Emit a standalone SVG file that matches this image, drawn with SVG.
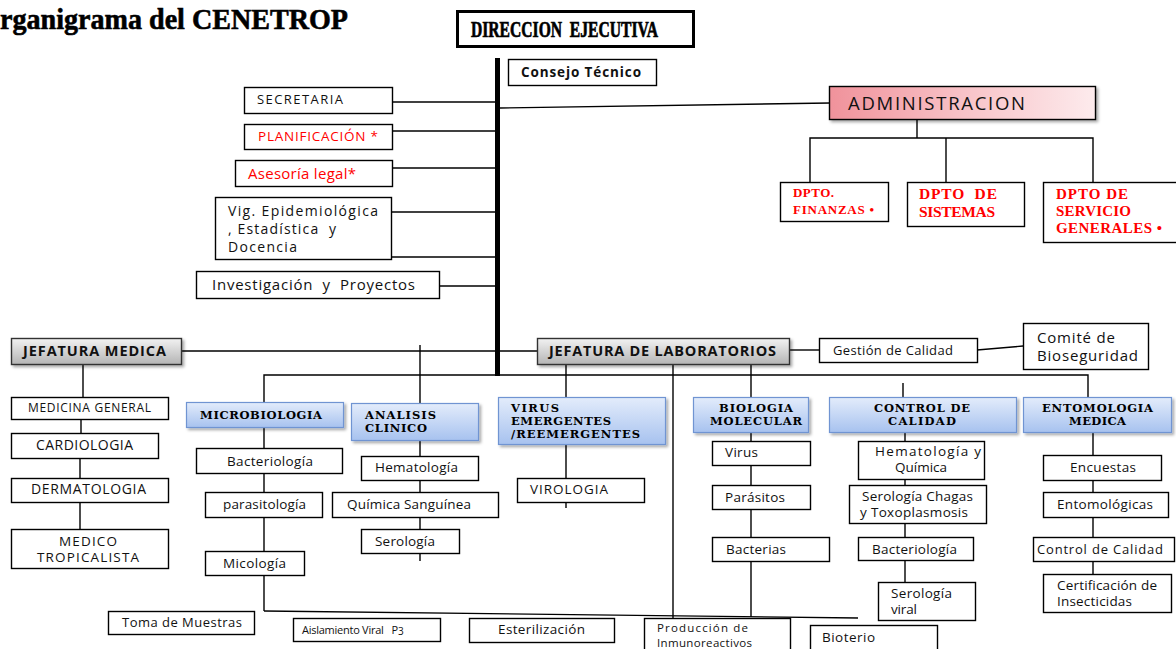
<svg xmlns="http://www.w3.org/2000/svg" width="1176" height="649" viewBox="0 0 1176 649">
<defs>
<linearGradient id="pink" x1="0" y1="0" x2="1" y2="0"><stop offset="0" stop-color="#f0929b"/><stop offset="0.5" stop-color="#f8c2c7"/><stop offset="1" stop-color="#fdebed"/></linearGradient>
<linearGradient id="gray" x1="0" y1="0" x2="0" y2="1"><stop offset="0" stop-color="#f2f2f2"/><stop offset="1" stop-color="#b4b4b4"/></linearGradient>
<linearGradient id="blue" x1="0" y1="0" x2="0" y2="1"><stop offset="0" stop-color="#e3ecfb"/><stop offset="1" stop-color="#a7c2ef"/></linearGradient>
<filter id="sh" x="-10%" y="-20%" width="125%" height="160%"><feDropShadow dx="2" dy="2" stdDeviation="1.5" flood-color="#000" flood-opacity="0.35"/></filter>
</defs>
<style>
.b{fill:#fff;stroke:#000;stroke-width:1.4}
.t{font-family:"Open Sans","Liberation Sans",sans-serif;fill:#111;white-space:pre}
.r{fill:#f00}
.bs{font-family:"DejaVu Serif",serif;font-weight:bold;fill:#000}
.rs{font-family:"Liberation Serif",serif;font-weight:bold;fill:#f00;white-space:pre}
.bl{fill:url(#blue);stroke:#6f94d2;stroke-width:1.2;filter:url(#sh)}
.gr{fill:url(#gray);stroke:#333;stroke-width:1.4;filter:url(#sh)}
.c line,.c polyline{stroke:#000;stroke-width:1.4;fill:none}
</style>
<text x="0" y="29" font-family="Liberation Serif,serif" font-weight="bold" font-size="30" textLength="348" lengthAdjust="spacingAndGlyphs" stroke="#000" stroke-width="0.6">rganigrama del CENETROP</text>
<g class="c" id="connectors">
<line x1="497.5" y1="58" x2="497.5" y2="376" style="stroke-width:5"/>
<line x1="392" y1="102" x2="497" y2="102"/>
<line x1="500" y1="108" x2="830" y2="103"/>
<line x1="392" y1="131" x2="497" y2="131"/>
<line x1="392" y1="168" x2="497" y2="168"/>
<line x1="391" y1="212" x2="497" y2="212"/>
<line x1="391" y1="257" x2="497" y2="257"/>
<line x1="439" y1="286" x2="497" y2="286"/>
<line x1="917" y1="119" x2="917" y2="138"/>
<polyline points="810,182 810,138 1093,138 1093,183"/>
<line x1="946" y1="138" x2="946" y2="182"/>
<line x1="181" y1="351" x2="537" y2="351"/>
<line x1="789" y1="350" x2="819" y2="350"/>
<line x1="977" y1="350" x2="1023" y2="346"/>
<polyline points="264,402 264,375 1088,375 1088,397"/>
<line x1="420" y1="345" x2="420" y2="403"/>
<line x1="903" y1="383" x2="903" y2="397"/>
<line x1="566" y1="364" x2="566" y2="397"/>
<line x1="673" y1="364" x2="673" y2="618"/>
<line x1="751" y1="364" x2="751" y2="397"/>
<line x1="83" y1="364" x2="83" y2="397"/>
<line x1="81" y1="419" x2="81" y2="433"/>
<line x1="80" y1="458" x2="80" y2="478"/>
<line x1="80" y1="502" x2="80" y2="529"/>
<line x1="264" y1="427" x2="264" y2="611"/>
<line x1="264" y1="611" x2="858" y2="618"/>
<line x1="420" y1="440" x2="420" y2="561"/>
<line x1="566" y1="444" x2="566" y2="508"/>
<line x1="751" y1="432" x2="751" y2="617"/>
<line x1="905" y1="432" x2="905" y2="582"/>
<line x1="1093" y1="432" x2="1093" y2="574"/>
</g>
<g id="direccion"><rect x="457.5" y="11.5" width="236" height="35" fill="#fff" stroke="#000" stroke-width="3"/><text x="471" y="37" font-family="Liberation Serif,serif" font-weight="bold" font-size="23" textLength="187" lengthAdjust="spacingAndGlyphs" stroke="#000" stroke-width="0.7" style="white-space:pre">DIRECCION  EJECUTIVA</text></g>
<g id="consejo"><rect class="b" x="508.5" y="59.5" width="148" height="26"/><text class="t" x="521" y="77" font-weight="bold" font-size="13.5" textLength="120">Consejo Técnico</text></g>
<g id="secretaria"><rect class="b" x="244.5" y="87.5" width="148" height="26"/><text class="t" x="257" y="104" font-size="13" textLength="86">SECRETARIA</text></g>
<g id="planificacion"><rect class="b" x="244.5" y="124.5" width="148" height="25"/><text class="t r" x="258" y="141" font-size="13.5" textLength="120">PLANIFICACIÓN *</text></g>
<g id="asesoria"><rect class="b" x="235.5" y="160.5" width="157" height="26"/><text class="t r" x="248" y="179" font-size="15" textLength="108">Asesoría legal*</text></g>
<g id="vig"><rect class="b" x="215.5" y="197.5" width="176" height="62"/><text class="t" x="228" y="216" font-size="14" textLength="150">Vig. Epidemiológica</text><text class="t" x="228" y="234" font-size="14" textLength="108">, Estadística  y</text><text class="t" x="228" y="252" font-size="14" textLength="69">Docencia</text></g>
<g id="investigacion"><rect class="b" x="196.5" y="271.5" width="243" height="27"/><text class="t" x="212" y="290" font-size="15" textLength="203">Investigación  y  Proyectos</text></g>
<g id="administracion"><rect x="829.5" y="86.5" width="266" height="33" fill="url(#pink)" stroke="#000" stroke-width="1.4" filter="url(#sh)"/><text class="t" x="848" y="110" font-size="18.5" textLength="177">ADMINISTRACION</text></g>
<g id="finanzas"><rect class="b" x="780.5" y="182.5" width="108" height="39"/><text class="rs" x="793" y="197" font-size="13" textLength="41">DPTO.</text><text class="rs" x="793" y="214" font-size="13" textLength="81">FINANZAS •</text></g>
<g id="sistemas"><rect class="b" x="907.5" y="182.5" width="117" height="44"/><text class="rs" x="919" y="199" font-size="15.5" textLength="78">DPTO  DE</text><text class="rs" x="919" y="217" font-size="15.5" textLength="76">SISTEMAS</text></g>
<g id="servicio"><rect class="b" x="1043.5" y="182.5" width="134" height="60"/><text class="rs" x="1056" y="199" font-size="15" textLength="72">DPTO DE</text><text class="rs" x="1056" y="216" font-size="15" textLength="75">SERVICIO</text><text class="rs" x="1056" y="233" font-size="15" textLength="106">GENERALES •</text></g>
<g id="jefmedica"><rect class="gr" x="11.5" y="338.5" width="170" height="26"/><text class="t" x="23" y="356" font-weight="bold" font-size="14.5" textLength="143">JEFATURA MEDICA</text></g>
<g id="jeflab"><rect class="gr" x="537.5" y="338.5" width="252" height="26"/><text class="t" x="549" y="356" font-weight="bold" font-size="14.5" textLength="227">JEFATURA DE LABORATORIOS</text></g>
<g id="gestion"><rect class="b" x="819.5" y="338.5" width="158" height="24"/><text class="t" x="833" y="355" font-size="13" textLength="120">Gestión de Calidad</text></g>
<g id="comite"><rect class="b" x="1023.5" y="323.5" width="125" height="46"/><text class="t" x="1037" y="343" font-size="15" textLength="78">Comité de</text><text class="t" x="1037" y="361" font-size="15" textLength="101">Bioseguridad</text></g>
<g id="medgeneral"><rect class="b" x="11.5" y="397.5" width="157" height="22"/><text class="t" x="28" y="412" font-size="12" textLength="123">MEDICINA GENERAL</text></g>
<g id="cardiologia"><rect class="b" x="11.5" y="433.5" width="147" height="25"/><text class="t" x="36" y="450" font-size="14" textLength="97">CARDIOLOGIA</text></g>
<g id="dermatologia"><rect class="b" x="11.5" y="478.5" width="157" height="24"/><text class="t" x="31" y="494" font-size="14" textLength="115">DERMATOLOGIA</text></g>
<g id="tropicalista"><rect class="b" x="11.5" y="529.5" width="157" height="39"/><text class="t" x="59" y="546" font-size="13.5" textLength="58">MEDICO</text><text class="t" x="37" y="562" font-size="13.5" textLength="102">TROPICALISTA</text></g>
<g id="microbiologia"><rect class="bl" x="186.5" y="402.5" width="157" height="25"/><text class="bs" x="200" y="419" font-size="11.5" textLength="122">MICROBIOLOGIA</text></g>
<g id="analisis"><rect class="bl" x="351.5" y="403.5" width="127" height="37"/><text class="bs" x="365" y="419" font-size="11.5" textLength="71">ANALISIS</text><text class="bs" x="365" y="432" font-size="11.5" textLength="62">CLINICO</text></g>
<g id="virus"><rect class="bl" x="498.5" y="397.5" width="167" height="47"/><text class="bs" x="511" y="412" font-size="11.5" textLength="48">VIRUS</text><text class="bs" x="511" y="425" font-size="11.5" textLength="100">EMERGENTES</text><text class="bs" x="511" y="438" font-size="11.5" textLength="129">/REEMERGENTES</text></g>
<g id="biomol"><rect class="bl" x="693.5" y="397.5" width="115" height="35"/><text class="bs" x="719" y="412" font-size="11.5" textLength="74">BIOLOGIA</text><text class="bs" x="710" y="425" font-size="11.5" textLength="92">MOLECULAR</text></g>
<g id="control"><rect class="bl" x="829.5" y="397.5" width="187" height="35"/><text class="bs" x="874" y="412" font-size="11.5" textLength="96">CONTROL DE</text><text class="bs" x="888" y="425" font-size="11.5" textLength="68">CALIDAD</text></g>
<g id="entomologia"><rect class="bl" x="1023.5" y="397.5" width="148" height="35"/><text class="bs" x="1042" y="412" font-size="11.5" textLength="111">ENTOMOLOGIA</text><text class="bs" x="1069" y="425" font-size="11.5" textLength="57">MEDICA</text></g>
<g id="bacteriologia1"><rect class="b" x="196.5" y="448.5" width="146" height="25"/><text class="t" x="227" y="466" font-size="13.5" textLength="86">Bacteriología</text></g>
<g id="parasitologia"><rect class="b" x="205.5" y="492.5" width="117" height="25"/><text class="t" x="223" y="509" font-size="13.5" textLength="83">parasitología</text></g>
<g id="micologia"><rect class="b" x="205.5" y="551.5" width="99" height="24"/><text class="t" x="223" y="568" font-size="13.5" textLength="63">Micología</text></g>
<g id="hematologia"><rect class="b" x="361.5" y="456.5" width="117" height="24"/><text class="t" x="375" y="472" font-size="13.5" textLength="83">Hematología</text></g>
<g id="quimica"><rect class="b" x="332.5" y="492.5" width="166" height="25"/><text class="t" x="347" y="509" font-size="13.5" textLength="124">Química Sanguínea</text></g>
<g id="serologia1"><rect class="b" x="361.5" y="529.5" width="98" height="24"/><text class="t" x="375" y="546" font-size="13.5" textLength="60">Serología</text></g>
<g id="virologia"><rect class="b" x="517.5" y="478.5" width="127" height="24"/><text class="t" x="530" y="494" font-size="13.5" textLength="78">VIROLOGIA</text></g>
<g id="virusbm"><rect class="b" x="712.5" y="441.5" width="98" height="24"/><text class="t" x="725" y="457" font-size="13.5" textLength="33">Virus</text></g>
<g id="parasitos"><rect class="b" x="712.5" y="485.5" width="98" height="24"/><text class="t" x="725" y="502" font-size="13.5" textLength="60">Parásitos</text></g>
<g id="bacterias"><rect class="b" x="712.5" y="537.5" width="117" height="24"/><text class="t" x="726" y="554" font-size="13.5" textLength="60">Bacterias</text></g>
<g id="hemaqui"><rect class="b" x="858.5" y="441.5" width="126" height="38"/><text class="t" x="875" y="456" font-size="13.5" textLength="106">Hematología y</text><text class="t" x="921" y="472" font-size="13.5" text-anchor="middle">Química</text></g>
<g id="chagas"><rect class="b" x="849.5" y="485.5" width="137" height="38"/><text class="t" x="862" y="501" font-size="13.5" textLength="111">Serología Chagas</text><text class="t" x="860" y="517" font-size="13.5" textLength="108">y Toxoplasmosis</text></g>
<g id="bacteriologia2"><rect class="b" x="858.5" y="537.5" width="115" height="23"/><text class="t" x="872" y="554" font-size="13.5" textLength="85">Bacteriología</text></g>
<g id="serviral"><rect class="b" x="878.5" y="582.5" width="97" height="38"/><text class="t" x="891" y="598" font-size="13.5" textLength="61">Serología</text><text class="t" x="891" y="614" font-size="13.5" textLength="26">viral</text></g>
<g id="encuestas"><rect class="b" x="1043.5" y="455.5" width="118" height="25"/><text class="t" x="1070" y="472" font-size="13.5" textLength="66">Encuestas</text></g>
<g id="entomologicas"><rect class="b" x="1043.5" y="492.5" width="125" height="25"/><text class="t" x="1057" y="509" font-size="13.5" textLength="96">Entomológicas</text></g>
<g id="controlcal"><rect class="b" x="1033.5" y="537.5" width="141" height="24"/><text class="t" x="1037" y="554" font-size="13" textLength="126">Control de Calidad</text></g>
<g id="certificacion"><rect class="b" x="1043.5" y="574.5" width="128" height="38"/><text class="t" x="1057" y="590" font-size="13.5" textLength="100">Certificación de</text><text class="t" x="1057" y="606" font-size="13.5" textLength="75">Insecticidas</text></g>
<g id="toma"><rect class="b" x="108.5" y="611.5" width="146" height="23"/><text class="t" x="122" y="627" font-size="13" textLength="120">Toma de Muestras</text></g>
<g id="aislamiento"><rect class="b" x="293.5" y="618.5" width="147" height="23"/><text class="t" x="302" y="634" font-size="11" textLength="96">Aislamiento Viral   P</text><text class="t" x="398" y="635" font-size="10">3</text></g>
<g id="esterilizacion"><rect class="b" x="469.5" y="618.5" width="145" height="24"/><text class="t" x="498" y="634" font-size="13.5" textLength="87">Esterilización</text></g>
<g id="produccion"><rect class="b" x="644.5" y="618.5" width="146" height="34"/><text class="t" x="657" y="632" font-size="11.5" textLength="91">Producción de</text><text class="t" x="657" y="646.5" font-size="11.5" textLength="95">Inmunoreactivos</text></g>
<g id="bioterio"><rect class="b" x="810.5" y="625.5" width="127" height="28"/><text class="t" x="822" y="642" font-size="13.5" textLength="53">Bioterio</text></g>
</svg>
